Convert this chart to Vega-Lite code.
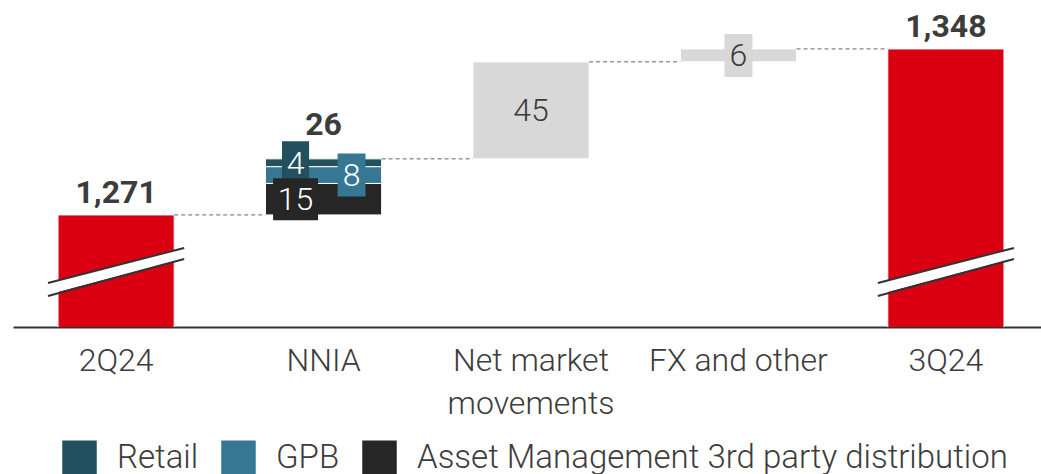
{
  "$schema": "https://vega.github.io/schema/vega-lite/v6.json",
  "width": 1036,
  "height": 327,
  "autosize": {"type": "none"},
  "padding": {"left": 13, "top": 0, "right": 0, "bottom": 147},
  "background": "white",
  "config": {
    "view": {"stroke": null},
    "font": "Roboto",
    "axisX": {
      "labelAngle": 0,
      "ticks": false,
      "domainColor": "#333333",
      "domainWidth": 2,
      "labelFont": "Roboto",
      "labelFontWeight": 300,
      "labelFontSize": 32,
      "labelColor": "#3c3c3c",
      "labelPadding": 18,
      "labelLineHeight": 43,
      "labelLimit": 0,
      "title": null
    }
  },
  "datasets": {
    "bars": [
      {"cat": "2Q24", "seg": "Total", "start": 0, "end": 1271, "label": 1271},
      {"cat": "NNIA", "seg": "Asset Management 3rd party distribution", "start": 1271, "end": 1285.6, "label": 15},
      {"cat": "NNIA", "seg": "GPB", "start": 1285.6, "end": 1293.4, "label": 8},
      {"cat": "NNIA", "seg": "Retail", "start": 1293.4, "end": 1297, "label": 4},
      {"cat": "Net market movements", "seg": "Net market movements", "start": 1297, "end": 1342, "label": 45},
      {"cat": "FX and other", "seg": "FX and other", "start": 1342, "end": 1348, "label": 6},
      {"cat": "3Q24", "seg": "Total", "start": 0, "end": 1348, "label": 1348}
    ],
    "connectors": [
      {"from": "2Q24", "to": "NNIA", "level": 1271},
      {"from": "NNIA", "to": "Net market movements", "level": 1297},
      {"from": "Net market movements", "to": "FX and other", "level": 1342},
      {"from": "FX and other", "to": "3Q24", "level": 1348}
    ],
    "breaks": [
      {"cat": "2Q24", "at": 1245},
      {"cat": "3Q24", "at": 1245}
    ],
    "totals": [
      {"cat": "2Q24", "value": 1271, "text": "1,271"},
      {"cat": "NNIA", "value": 1297, "text": "26"},
      {"cat": "3Q24", "value": 1348, "text": "1,348"}
    ]
  },
  "encoding": {
    "x": {
      "field": "cat",
      "type": "nominal",
      "title": null,
      "scale": {
        "domain": ["2Q24", "NNIA", "Net market movements", "FX and other", "3Q24"],
        "paddingInner": 0.44,
        "paddingOuter": 0.217
      },
      "axis": {
        "title": null,
        "labelExpr": "datum.value == 'Net market movements' ? ['Net market', 'movements'] : datum.label"
      }
    }
  },
  "resolve": {"scale": {"x": "shared", "y": "shared"}},
  "layer": [
    {
      "data": {"name": "bars"},
      "mark": {"type": "bar", "clip": true, "stroke": "white", "strokeWidth": 1},
      "encoding": {
        "y": {"field": "start", "type": "quantitative", "scale": {"domain": [1219, 1370.7], "zero": false, "nice": false}, "axis": null},
        "y2": {"field": "end"},
        "color": {
          "field": "seg",
          "type": "nominal",
          "scale": {
            "domain": ["Retail", "GPB", "Asset Management 3rd party distribution", "Total", "Net market movements", "FX and other"],
            "range": ["#23505E", "#367893", "#262626", "#DB0011", "#D8D8D8", "#D8D8D8"]
          },
          "legend": {
            "orient": "none",
            "legendX": 49,
            "legendY": 440,
            "direction": "horizontal",
            "title": null,
            "values": ["Retail", "GPB", "Asset Management 3rd party distribution"],
            "symbolType": "square",
            "symbolSize": 1190,
            "symbolStrokeWidth": 0,
            "labelFont": "Roboto",
            "labelFontWeight": 300,
            "labelFontSize": 33,
            "labelColor": "#3c3c3c",
            "labelOffset": 20,
            "columnPadding": 22,
            "labelLimit": 0,
            "padding": 0
          }
        }
      }
    },
    {
      "data": {"name": "connectors"},
      "mark": {"type": "rule", "color": "#666666", "strokeWidth": 1, "strokeDash": [4, 3]},
      "encoding": {
        "x": {"field": "from", "type": "nominal", "bandPosition": 1},
        "x2": {"field": "to", "bandPosition": 0},
        "y": {"field": "level", "type": "quantitative"}
      }
    },
    {
      "data": {"name": "breaks"},
      "mark": {"type": "rule", "color": "white", "strokeWidth": 11, "xOffset": -10, "x2Offset": 10, "yOffset": 18, "y2Offset": -18},
      "encoding": {
        "x": {"field": "cat", "type": "nominal", "bandPosition": 0},
        "x2": {"field": "cat", "bandPosition": 1},
        "y": {"field": "at", "type": "quantitative"},
        "y2": {"field": "at"}
      }
    },
    {
      "data": {"name": "breaks"},
      "mark": {"type": "rule", "color": "#333333", "strokeWidth": 2, "xOffset": -10, "x2Offset": 10, "yOffset": 12, "y2Offset": -23},
      "encoding": {
        "x": {"field": "cat", "type": "nominal", "bandPosition": 0},
        "x2": {"field": "cat", "bandPosition": 1},
        "y": {"field": "at", "type": "quantitative"},
        "y2": {"field": "at"}
      }
    },
    {
      "data": {"name": "breaks"},
      "mark": {"type": "rule", "color": "#333333", "strokeWidth": 2, "xOffset": -10, "x2Offset": 10, "yOffset": 25, "y2Offset": -12},
      "encoding": {
        "x": {"field": "cat", "type": "nominal", "bandPosition": 0},
        "x2": {"field": "cat", "bandPosition": 1},
        "y": {"field": "at", "type": "quantitative"},
        "y2": {"field": "at"}
      }
    },
    {
      "data": {"name": "bars"},
      "transform": [
        {"filter": "datum.seg == 'Retail'"},
        {"calculate": "(datum.start + datum.end) / 2", "as": "mid"}
      ],
      "mark": {"type": "point", "filled": true, "opacity": 1, "color": "#23505E", "shape": "M-0.63,-1H0.63V1H-0.63Z", "size": 1849, "xOffset": -28},
      "encoding": {"y": {"field": "mid", "type": "quantitative"}}
    },
    {
      "data": {"name": "bars"},
      "transform": [
        {"filter": "datum.seg == 'GPB'"},
        {"calculate": "(datum.start + datum.end) / 2", "as": "mid"}
      ],
      "mark": {"type": "point", "filled": true, "opacity": 1, "color": "#367893", "shape": "M-0.65,-1H0.65V1H-0.65Z", "size": 1849, "xOffset": 28},
      "encoding": {"y": {"field": "mid", "type": "quantitative"}}
    },
    {
      "data": {"name": "bars"},
      "transform": [
        {"filter": "datum.seg == 'Asset Management 3rd party distribution'"},
        {"calculate": "(datum.start + datum.end) / 2", "as": "mid"}
      ],
      "mark": {"type": "point", "filled": true, "opacity": 1, "color": "#262626", "shape": "M-1.07,-1H1.07V1H-1.07Z", "size": 1764, "xOffset": -28},
      "encoding": {"y": {"field": "mid", "type": "quantitative"}}
    },
    {
      "data": {"name": "bars"},
      "transform": [
        {"filter": "datum.seg == 'FX and other'"},
        {"calculate": "(datum.start + datum.end) / 2", "as": "mid"}
      ],
      "mark": {"type": "point", "filled": true, "opacity": 1, "color": "#D8D8D8", "shape": "M-0.65,-1H0.65V1H-0.65Z", "size": 1849},
      "encoding": {"y": {"field": "mid", "type": "quantitative"}}
    },
    {
      "data": {"name": "bars"},
      "transform": [
        {"filter": "datum.seg == 'Retail' || datum.seg == 'Asset Management 3rd party distribution'"},
        {"calculate": "(datum.start + datum.end) / 2", "as": "mid"}
      ],
      "mark": {"type": "text", "color": "white", "font": "Roboto", "fontWeight": 300, "fontSize": 32, "baseline": "middle", "align": "center", "xOffset": -28, "dy": 1},
      "encoding": {
        "y": {"field": "mid", "type": "quantitative"},
        "text": {"field": "label", "type": "quantitative", "format": "d"}
      }
    },
    {
      "data": {"name": "bars"},
      "transform": [
        {"filter": "datum.seg == 'GPB'"},
        {"calculate": "(datum.start + datum.end) / 2", "as": "mid"}
      ],
      "mark": {"type": "text", "color": "white", "font": "Roboto", "fontWeight": 300, "fontSize": 32, "baseline": "middle", "align": "center", "xOffset": 28, "dy": 1},
      "encoding": {
        "y": {"field": "mid", "type": "quantitative"},
        "text": {"field": "label", "type": "quantitative", "format": "d"}
      }
    },
    {
      "data": {"name": "bars"},
      "transform": [
        {"filter": "datum.seg == 'Net market movements' || datum.seg == 'FX and other'"},
        {"calculate": "(datum.start + datum.end) / 2", "as": "mid"}
      ],
      "mark": {"type": "text", "color": "#3c3c3c", "font": "Roboto", "fontWeight": 300, "fontSize": 32, "baseline": "middle", "align": "center", "dy": 1},
      "encoding": {
        "y": {"field": "mid", "type": "quantitative"},
        "text": {"field": "label", "type": "quantitative", "format": "d"}
      }
    },
    {
      "data": {"name": "totals"},
      "transform": [{"filter": "datum.cat != 'NNIA'"}],
      "mark": {"type": "text", "color": "#3c3c3c", "font": "Roboto", "fontWeight": "bold", "fontSize": 32, "baseline": "alphabetic", "align": "center", "dy": -12},
      "encoding": {
        "y": {"field": "value", "type": "quantitative"},
        "text": {"field": "text", "type": "nominal"}
      }
    },
    {
      "data": {"name": "totals"},
      "transform": [{"filter": "datum.cat == 'NNIA'"}],
      "mark": {"type": "text", "color": "#3c3c3c", "font": "Roboto", "fontWeight": "bold", "fontSize": 32, "baseline": "alphabetic", "align": "center", "dy": -24},
      "encoding": {
        "y": {"field": "value", "type": "quantitative"},
        "text": {"field": "text", "type": "nominal"}
      }
    }
  ]
}
